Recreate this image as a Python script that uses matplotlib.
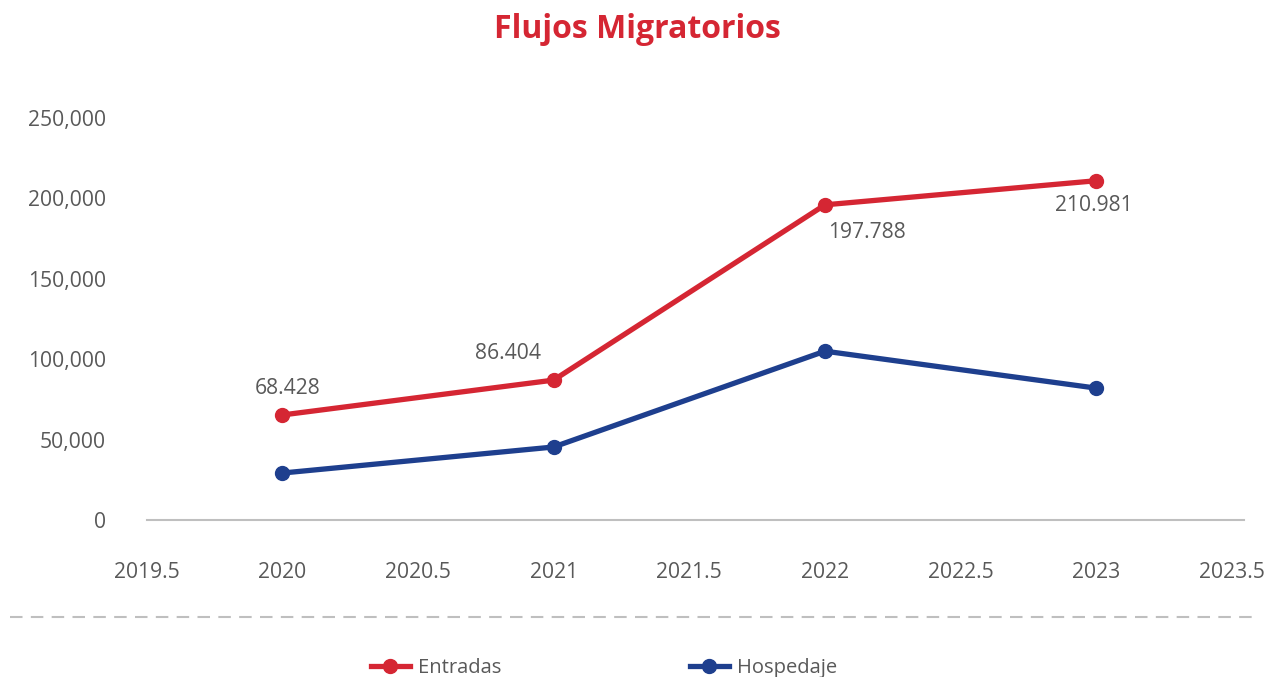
import matplotlib
matplotlib.use("Agg")
import matplotlib.pyplot as plt
from matplotlib.lines import Line2D
from matplotlib.ticker import FuncFormatter

plt.rcParams['font.family'] = ['Open Sans', 'DejaVu Sans']

years = [2020, 2021, 2022, 2023]
entradas = [65300, 87000, 196000, 211000]
hospedaje = [29200, 45400, 105000, 82000]
entradas_labels = ["68.428", "86.404", "197.788", "210.981"]
xticks = [2019.5, 2020, 2020.5, 2021, 2021.5, 2022, 2022.5, 2023, 2023.5]
yticks = [0, 50000, 100000, 150000, 200000, 250000]

RED = "#d52633"
BLUE = "#1e3f8e"
GRAY = "#595959"

W, H = 1267, 677
fig = plt.figure(figsize=(W / 100, H / 100), dpi=100)
ax = fig.add_axes([146.5 / W, (H - 520) / H, (1244 - 146.5) / W, (520 - 118) / H])

ax.plot(years, entradas, color=RED, lw=3.8, marker='o', ms=10, solid_capstyle='round',
        label="Entradas", zorder=3)
ax.plot(years, hospedaje, color=BLUE, lw=3.8, marker='o', ms=10, solid_capstyle='round',
        label="Hospedaje", zorder=3)

offsets = [(4, 19), (-33, 19), (30, -20), (-2, -18)]
for x, y, t, off in zip(years, entradas, entradas_labels, offsets):
    ax.annotate(t, (x, y), xytext=off, textcoords='offset points', ha='center', va='center',
                fontsize=15.2, color=GRAY)

ax.set_xlim(2019.5, 2023.544)
ax.set_ylim(0, 250000)
ax.set_xticks(xticks)
ax.set_xticklabels([f"{v:g}" for v in xticks])
ax.set_yticks(yticks)
ax.yaxis.set_major_formatter(FuncFormatter(lambda v, p: f"{int(v):,}"))
ax.tick_params(axis='both', length=0, labelsize=15.2, labelcolor=GRAY)
ax.tick_params(axis='x', pad=30)
ax.tick_params(axis='y', pad=29)
for s in ['top', 'right', 'left']:
    ax.spines[s].set_visible(False)
ax.spines['bottom'].set_color('#bfbfbf')
ax.spines['bottom'].set_linewidth(1.5)

fig.text(637 / W, 1 - 30 / H, "Flujos Migratorios", ha='center', va='center',
         fontsize=23, fontweight='bold', color=RED)

fig.add_artist(Line2D([10 / W, 1260 / W], [1 - 617 / H, 1 - 617 / H], transform=fig.transFigure,
                      color='#bfbfbf', lw=1.5, ls=(0, (6, 4))))

handles = [Line2D([], [], color=RED, lw=3.8, marker='o', ms=10),
           Line2D([], [], color=BLUE, lw=3.8, marker='o', ms=10)]
leg = fig.legend(handles, ["Entradas", "Hospedaje"], loc='center', bbox_to_anchor=(604 / W, 1 - 668 / H),
                 ncol=2, frameon=False, fontsize=14.5, handlelength=1.9, handletextpad=0.4,
                 columnspacing=9.4, borderpad=0)
for t in leg.get_texts():
    t.set_color(GRAY)

fig.savefig("out.png", dpi=100)
